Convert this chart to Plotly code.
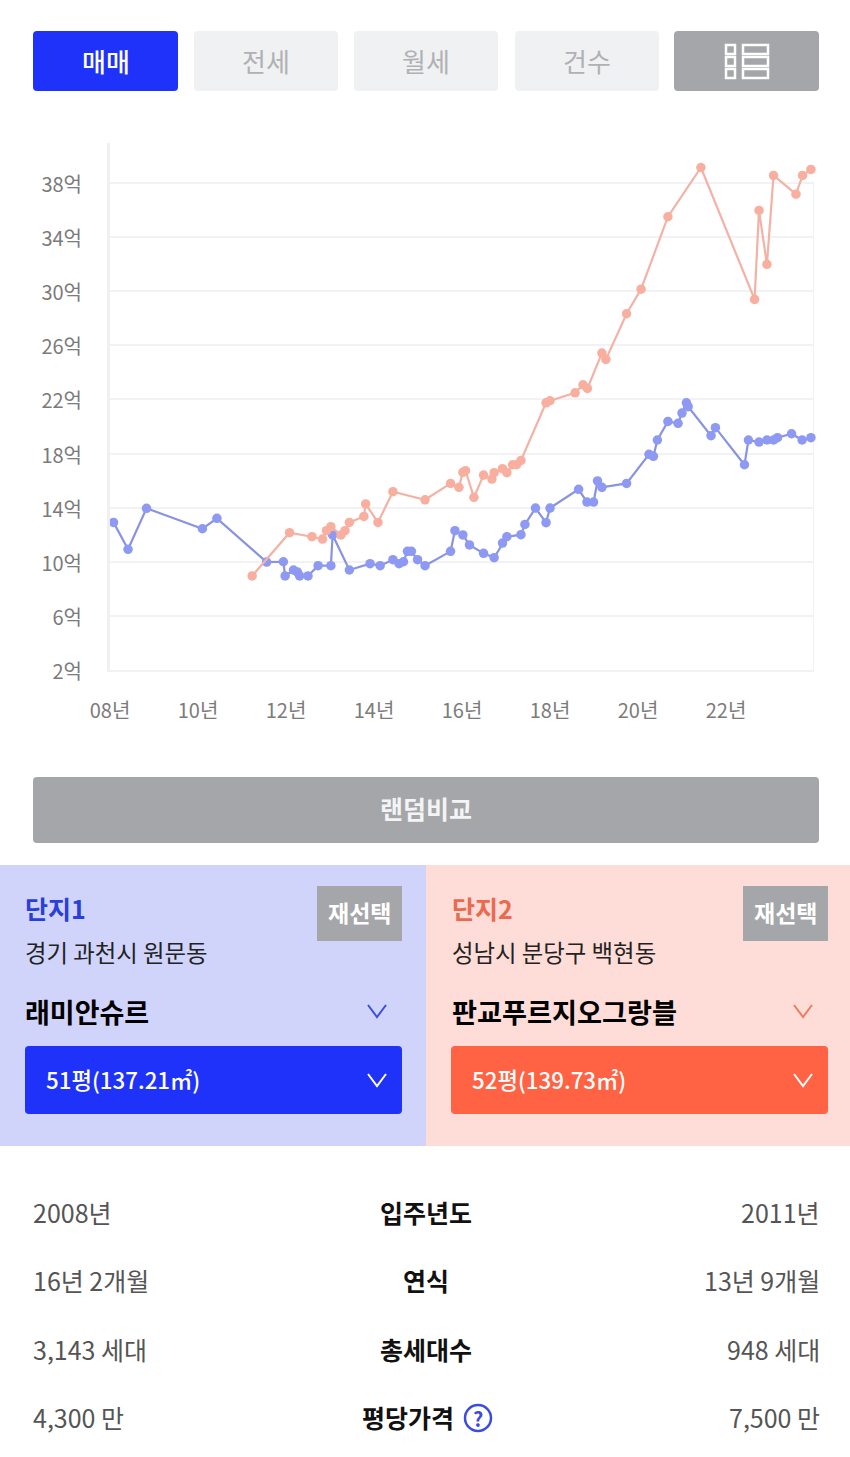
from __future__ import annotations

import plotly.graph_objects as go

WIDTH = 850
HEIGHT = 1457
FONT = "Noto Sans CJK KR"

BLUE = "#1e32fa"
ORANGE = "#ff6343"
GREY_BTN = "#a5a6a9"
LIGHT_BTN = "#f0f1f3"

# 단지1 (래미안슈르): year, price in 억
blue_years = [
    2008.08, 2008.41, 2008.83, 2010.10, 2010.43, 2011.56, 2011.94, 2011.98, 2012.17, 2012.26,
    2012.31, 2012.50, 2012.73, 2013.02, 2013.06, 2013.44, 2013.91, 2014.14, 2014.43, 2014.57,
    2014.67, 2014.76, 2014.85, 2014.99, 2015.16, 2015.74, 2015.84, 2016.02, 2016.17, 2016.49,
    2016.73, 2016.92, 2017.02, 2017.34, 2017.43, 2017.67, 2017.91, 2018.00, 2018.65, 2018.84,
    2018.99, 2019.08, 2019.18, 2019.74, 2020.25, 2020.35, 2020.44, 2020.68, 2020.91, 2021.00,
    2021.10, 2021.14, 2021.66, 2021.76, 2022.42, 2022.51, 2022.75, 2022.93, 2023.08, 2023.17,
    2023.49, 2023.73, 2023.93,
]
blue_prices = [
    12.91, 10.92, 13.95, 12.44, 13.21, 9.98, 10.0, 8.95, 9.39, 9.24,
    8.95, 8.95, 9.71, 9.71, 11.98, 9.39, 9.86, 9.71, 10.15, 9.86,
    10.0, 10.77, 10.77, 10.15, 9.71, 10.77, 12.30, 11.98, 11.24, 10.62,
    10.30, 11.38, 11.85, 12.0, 12.76, 13.97, 12.89, 13.97, 15.35, 14.41,
    14.41, 15.97, 15.50, 15.79, 17.94, 17.79, 19.0, 20.37, 20.23, 20.99,
    21.75, 21.46, 19.32, 19.91, 17.17, 19.0, 18.85, 19.0, 19.0, 19.17,
    19.46, 19.0, 19.17,
]

# 단지2 (판교푸르지오그랑블)
orange_years = [
    2011.23, 2012.08, 2012.59, 2012.83, 2012.92, 2013.02, 2013.25, 2013.34, 2013.44, 2013.77,
    2013.81, 2014.09, 2014.43, 2015.16, 2015.74, 2015.93, 2016.02, 2016.08, 2016.27, 2016.49,
    2016.68, 2016.73, 2016.92, 2017.02, 2017.15, 2017.24, 2017.34, 2017.91, 2018.00, 2018.57,
    2018.75, 2018.85, 2019.18, 2019.27, 2019.74, 2020.07, 2020.68, 2021.43, 2022.65, 2022.75,
    2022.93, 2023.08, 2023.59, 2023.74, 2023.93,
]
orange_prices = [
    8.95, 12.15, 11.85, 11.68, 12.30, 12.59, 11.98, 12.30, 12.91, 13.35,
    14.27, 12.91, 15.18, 14.58, 15.79, 15.50, 16.61, 16.73, 14.76, 16.41,
    16.11, 16.58, 16.88, 16.58, 17.17, 17.17, 17.49, 21.75, 21.90, 22.49,
    23.08, 22.81, 25.42, 24.96, 28.33, 30.15, 35.50, 39.14, 29.39, 35.97,
    31.98, 38.55, 37.17, 38.55, 39.0,
]

y_ticks = [2, 6, 10, 14, 18, 22, 26, 30, 34, 38]
y_labels = [f"{v}억" for v in y_ticks]
x_ticks = [2008, 2010, 2012, 2014, 2016, 2018, 2020, 2022]
x_labels = ["08년", "10년", "12년", "14년", "16년", "18년", "20년", "22년"]

tabs = ["매매", "전세", "월세", "건수"]
table_left = ["2008년", "16년 2개월", "3,143 세대", "4,300 만"]
table_mid = ["입주년도", "연식", "총세대수", "평당가격"]
table_right = ["2011년", "13년 9개월", "948 세대", "7,500 만"]


def px(x):
    return x / WIDTH


def py(y):
    return 1 - y / HEIGHT


def rect(x0, y0, x1, y1, color, radius=0):
    r = radius
    path = (
        f"M {px(x0 + r)} {py(y0)} L {px(x1 - r)} {py(y0)} Q {px(x1)} {py(y0)} {px(x1)} {py(y0 + r)} "
        f"L {px(x1)} {py(y1 - r)} Q {px(x1)} {py(y1)} {px(x1 - r)} {py(y1)} "
        f"L {px(x0 + r)} {py(y1)} Q {px(x0)} {py(y1)} {px(x0)} {py(y1 - r)} "
        f"L {px(x0)} {py(y0 + r)} Q {px(x0)} {py(y0)} {px(x0 + r)} {py(y0)} Z"
    )
    return dict(type="path", xref="paper", yref="paper", path=path, fillcolor=color, line_width=0, layer="below")


def outline(x0, y0, x1, y1):
    return dict(
        type="rect", xref="paper", yref="paper", x0=px(x0), y0=py(y0), x1=px(x1), y1=py(y1),
        line=dict(color="white", width=2.5), fillcolor="rgba(0,0,0,0)",
    )


def chevron(x, y, color):
    path = f"M {px(x - 9)} {py(y - 6)} L {px(x)} {py(y + 6)} L {px(x + 9)} {py(y - 6)}"
    return dict(type="path", xref="paper", yref="paper", path=path, line=dict(color=color, width=2))


def label(x, y, text, size, color, anchor="left", weight=400):
    return dict(
        xref="paper", yref="paper", x=px(x), y=py(y), text=text, showarrow=False,
        xanchor=anchor, yanchor="middle", font=dict(family=FONT, size=size, color=color, weight=weight),
    )


fig = go.Figure()

fig.add_trace(
    go.Scatter(
        x=blue_years,
        y=blue_prices,
        mode="lines+markers",
        name="단지1",
        line=dict(color="#8893e2", width=2.2),
        marker=dict(color="#8d99f2", size=9.5),
        cliponaxis=False,
    )
)
fig.add_trace(
    go.Scatter(
        x=orange_years,
        y=orange_prices,
        mode="lines+markers",
        name="단지2",
        line=dict(color="#f3b2a5", width=2.2),
        marker=dict(color="#f8af9f", size=9.5),
        cliponaxis=False,
    )
)

shapes = []

# top tabs
tab_x = [(33, 178), (194, 338), (354, 498), (515, 659)]
shapes.append(rect(*(tab_x[0][0], 31, tab_x[0][1], 91), BLUE, 4))
for x0, x1 in tab_x[1:]:
    shapes.append(rect(x0, 31, x1, 91, LIGHT_BTN, 4))
shapes.append(rect(674, 31, 819, 91, GREY_BTN, 4))
for y0, y1 in [(45, 54), (57, 66), (69, 78)]:
    shapes.append(outline(726, y0, 735, y1))
    shapes.append(outline(743, y0, 768, y1))

# right edge of the chart frame
shapes.append(dict(type="line", x0=2024, x1=2024, y0=2, y1=38, line=dict(color="#f2f2f4", width=2), layer="below"))

shapes.append(rect(33, 777, 819, 843, GREY_BTN, 4))

# complex panels
shapes.append(rect(0, 865, 426, 1146, "#d0d4fb"))
shapes.append(rect(426, 865, 850, 1146, "#fedcd7"))
shapes.append(rect(317, 886, 402, 941, GREY_BTN))
shapes.append(rect(743, 886, 828, 941, GREY_BTN))
shapes.append(rect(25, 1046, 402, 1114, BLUE, 4))
shapes.append(rect(451, 1046, 828, 1114, ORANGE, 4))
shapes.append(chevron(377, 1011, "#3b4be0"))
shapes.append(chevron(803, 1011, "#ee7a60"))
shapes.append(chevron(377, 1080, "white"))
shapes.append(chevron(803, 1080, "white"))

# help icon
shapes.append(
    dict(
        type="circle", xref="paper", yref="paper", x0=px(465), x1=px(491), y0=py(1405), y1=py(1431),
        line=dict(color="#3b4be0", width=2.5), fillcolor="white",
    )
)

annotations = [
    label(106, 61, tabs[0], 26, "white", "center", 500),
    label(266, 61, tabs[1], 26, "#b0b1b4", "center"),
    label(426.5, 61, tabs[2], 26, "#b0b1b4", "center"),
    label(587, 61, tabs[3], 26, "#b0b1b4", "center"),
    label(426, 808, "랜덤비교", 25, "#f4f4f5", "center", 700),
    label(23, 908, "단지1", 25, "#2a3fd8", weight=700),
    label(450, 908, "단지2", 25, "#ea6a50", weight=700),
    label(359.5, 912, "재선택", 23, "white", "center", 700),
    label(785.5, 912, "재선택", 23, "white", "center", 700),
    label(23, 952, "경기 과천시 원문동", 23.4, "#222222"),
    label(450, 952, "성남시 분당구 백현동", 23.4, "#222222"),
    label(23, 1011, "래미안슈르", 27, "#000000", weight=700),
    label(450, 1011, "판교푸르지오그랑블", 27.2, "#000000", weight=700),
    label(44, 1079, "51평(137.21㎡)", 22.3, "white", weight=500),
    label(470, 1079, "52평(139.73㎡)", 22.3, "white", weight=500),
    label(478, 1418, "?", 20, "#3b4be0", "center", 700),
]

row_y = [1212, 1280, 1349, 1417]
for y, left, mid, right in zip(row_y, table_left, table_mid, table_right):
    annotations.append(label(31, y, left, 25, "#555555"))
    mid_x = 408 if mid == "평당가격" else 426
    annotations.append(label(mid_x, y, mid, 25, "#111111", "center", 700))
    annotations.append(label(822, y, right, 25, "#555555", "right"))

fig.update_layout(
    width=WIDTH,
    height=HEIGHT,
    margin=dict(l=0, r=0, t=0, b=0, pad=0),
    paper_bgcolor="white",
    plot_bgcolor="white",
    showlegend=False,
    hovermode="closest",
    font=dict(family=FONT, color="#7b7b7b", size=20),
    shapes=shapes,
    annotations=annotations,
)
fig.update_xaxes(
    domain=[110 / WIDTH, 814 / WIDTH],
    range=[2008, 2024],
    automargin=False,
    tickmode="array",
    tickvals=x_ticks,
    ticktext=x_labels,
    ticks="outside",
    ticklen=22,
    tickcolor="rgba(0,0,0,0)",
    showgrid=False,
    zeroline=False,
    showline=True,
    linecolor="#f2f2f4",
    linewidth=2,
)
fig.update_yaxes(
    domain=[1 - 670 / HEIGHT, 1 - 143 / HEIGHT],
    range=[2, 40.95],
    automargin=False,
    tickmode="array",
    tickvals=y_ticks,
    ticktext=y_labels,
    ticks="outside",
    ticklen=21,
    ticklabelshift=2,
    tickcolor="rgba(0,0,0,0)",
    gridcolor="#f2f2f4",
    gridwidth=2,
    zeroline=False,
    showline=True,
    linecolor="#f0f0f2",
    linewidth=3,
)

fig.write_html(
    "out.html",
    config={"displayModeBar": False},
    post_script="document.body.style.margin='0';document.body.style.overflow='hidden';",
)
